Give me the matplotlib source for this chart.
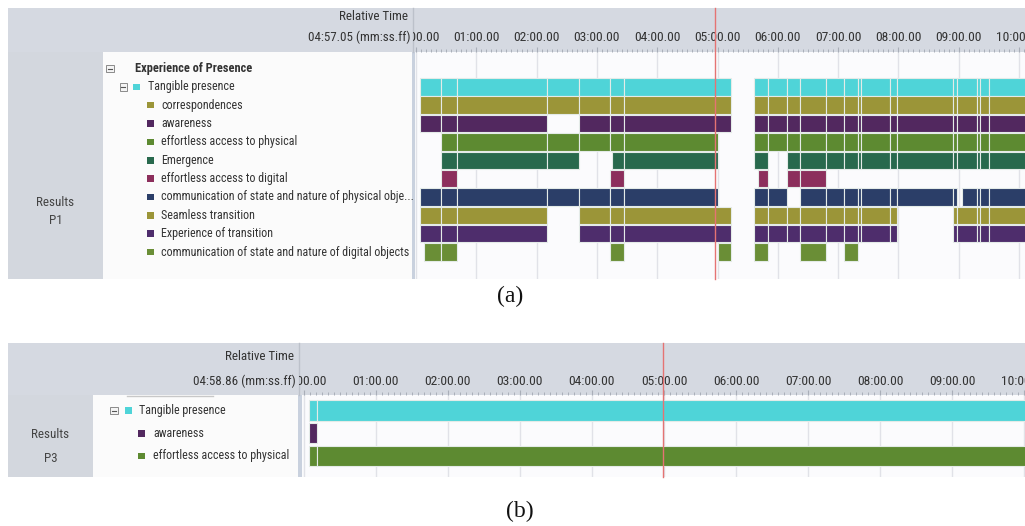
import matplotlib
matplotlib.use("Agg")
import matplotlib.pyplot as plt
from matplotlib.patches import Rectangle
from matplotlib.ticker import FixedLocator, MultipleLocator, FuncFormatter
from matplotlib.transforms import Bbox, TransformedBbox

plt.rcParams['font.family'] = ['Roboto Condensed', 'Archivo Narrow', 'Asap Condensed',
                               'Liberation Sans Narrow', 'DejaVu Sans']

# ------------------------------------------------------------------ data
# Panel (a): Results P1
labels_a = ["Experience of Presence", "Tangible presence", "correspondences", "awareness",
            "effortless access to physical", "Emergence", "effortless access to digital",
            "communication of state and nature of physical obje...", "Seamless transition",
            "Experience of transition", "communication of state and nature of digital objects"]
colors_a = [None, "#4fd4d8", "#9b9538", "#52285f", "#5d8a31", "#28694d", "#8c2f5c",
            "#2b3e68", "#9b9538", "#4e2d6c", "#6a8e36"]
spans_a = [
    [],
    [(0.066, 5.22), (5.61, 10.5)],
    [(0.066, 5.22), (5.61, 10.5)],
    [(0.066, 2.18), (2.71, 5.22), (5.61, 10.5)],
    [(0.41, 5.01), (5.61, 10.5)],
    [(0.41, 2.71), (3.245, 5.01), (5.61, 5.84), (6.16, 10.5)],
    [(0.41, 0.675), (3.21, 3.455), (5.67, 5.84), (6.16, 6.80)],
    [(0.066, 5.01), (5.61, 6.16), (6.37, 8.98), (9.05, 10.5)],
    [(0.066, 2.18), (2.71, 5.22), (5.61, 7.97), (8.90, 10.5)],
    [(0.066, 2.18), (2.71, 5.22), (5.61, 7.97), (8.90, 10.5)],
    [(0.133, 0.675), (3.21, 3.455), (5.01, 5.22), (5.61, 5.84), (6.37, 6.80), (7.10, 7.33)],
]
cuts_a = [0.41, 0.675, 2.18, 2.71, 3.21, 3.455, 5.84, 6.16, 6.37, 6.80, 7.10, 7.33, 7.38,
          7.86, 7.97, 8.90, 8.98, 9.30, 9.36, 9.51]
cursor_a = 4 + 57.05 / 60
cursor_a_text = "04:57.05 (mm:ss.ff)"
group_a = ["Results", "P1"]

# Panel (b): Results P3
labels_b = ["Tangible presence", "awareness", "effortless access to physical"]
colors_b = ["#4fd4d8", "#52285f", "#5d8a31"]
spans_b = [[(0.078, 10.5)], [(0.078, 0.19)], [(0.078, 10.5)]]
cuts_b = [0.19]
cursor_b = 4 + 58.86 / 60
cursor_b_text = "04:58.86 (mm:ss.ff)"
group_b = ["Results", "P3"]

minutes = list(range(0, 11))

# ------------------------------------------------------------------ style
W, H = 1025, 526
HEAD = "#d5d9e1"
SIDE = "#d3d7de"
LABBG = "#fbfbfb"
TLBG = "#fbfbfd"
GRID = "#e1e2e8"
SEP = "#c9d1de"
TXT = "#333333"
EDGE = "#e4ebe8"
RED = "#e57373"
TICKFS = 9.7
LABFS = 8.65
BOLDFS = 8.9
HDRFS = 9.4

fig = plt.figure(figsize=(W / 100, H / 100), dpi=100)


def px_axes(x0, y0, x1, y1, z):
    ax = fig.add_axes([x0 / W, 1 - y1 / H, (x1 - x0) / W, (y1 - y0) / H])
    ax.set_zorder(z)
    return ax


def split(spans, cuts):
    out = []
    for s, e in spans:
        pts = [s] + [c for c in cuts if s < c < e] + [e]
        out += [(a, b - a) for a, b in zip(pts[:-1], pts[1:])]
    return out


# background axes in pixel space
bg = px_axes(0, 0, W, H, 0)
bg.set_xlim(0, W)
bg.set_ylim(H, 0)
bg.axis("off")


def panel(hy0, hy1, by1, xl, xsep0, xsep1, xt0, t_x0, t_pitch, y_c0, y_pitch,
          labels, colors, spans, cuts, cursor, cursor_text, group, tree, hdr_txt_y,
          bar_h, tick_gap_pt):
    # header strip
    bg.add_patch(Rectangle((8, hy0), W - 8, hy1 - hy0, color=HEAD, lw=0))
    bg.add_patch(Rectangle((xsep0, hy1), xsep1 - xsep0, by1 - hy1, color=SEP, lw=0))
    bg.plot([xsep0 + 0.5, xsep0 + 0.5], [hy0, hy1], color="#bcc1ca", lw=1)

    # timeline axes
    ax = px_axes(xt0, hy1, W, by1, 1)
    ax.set_facecolor(TLBG)
    ax.set_xlim((xt0 - t_x0) / t_pitch, (W - t_x0) / t_pitch)
    ax.set_ylim((by1 - y_c0) / y_pitch, (hy1 - y_c0) / y_pitch)
    for s in ax.spines.values():
        s.set_visible(False)
    ax.xaxis.set_major_locator(FixedLocator(minutes))
    ax.xaxis.set_minor_locator(MultipleLocator(1 / 12))
    ax.xaxis.set_major_formatter(FuncFormatter(lambda v, p: "%02d:00.00" % int(round(v))))
    ax.tick_params(axis="x", which="both", top=True, bottom=False, labeltop=True,
                   labelbottom=False, direction="out", color="#a9aeb8")
    ax.tick_params(axis="x", which="major", length=3.6, width=0.8, pad=tick_gap_pt,
                   labelsize=TICKFS, labelcolor=TXT)
    ax.tick_params(axis="x", which="minor", length=2.0, width=0.7)
    ax.tick_params(axis="y", left=False, labelleft=False)
    ax.grid(axis="x", which="major", color=GRID, lw=1)
    ax.set_axisbelow(True)
    # tick labels are clipped at the left edge of the timeline, as in the viewer
    clip = TransformedBbox(Bbox([[(xsep0 + 1) / W, 0], [1, 1]]), fig.transFigure)
    for tk in ax.xaxis.get_major_ticks(len(minutes)):
        tk.label2.set_clip_box(clip)
        tk.label2.set_clip_on(True)
    for i, (sp, c) in enumerate(zip(spans, colors)):
        if not sp:
            continue
        ax.broken_barh(split(sp, cuts), (i - bar_h / 2, bar_h), facecolors=c,
                       edgecolors=EDGE, linewidth=0.8, zorder=2)
    ymax = 1 + (hy1 - hy0) / (by1 - hy1)
    ax.axvline(cursor, ymin=0, ymax=ymax, color=RED, lw=1, clip_on=False, zorder=5)

    # header-left overlay
    hl = px_axes(8, hy0, xsep0, hy1, 2)
    hl.set_xlim(8, xsep0)
    hl.set_ylim(hy1, hy0)
    hl.axis("off")
    hl.add_patch(Rectangle((8, hy0), xsep0 - 8, hy1 - hy0, color=HEAD, lw=0))
    hl.text(xsep0 - 4, hdr_txt_y[0], "Relative Time", ha="right", va="center",
            fontsize=HDRFS, color=TXT)
    hl.text(xsep0 - 2, hdr_txt_y[1], cursor_text, ha="right", va="center",
            fontsize=HDRFS, color=TXT)

    # label body overlay sharing the row scale
    lb = px_axes(8, hy1, xsep0, by1, 2)
    lb.set_xlim(8, xsep0)
    lb.set_ylim(ax.get_ylim())
    lb.set_facecolor(LABBG)
    for s in lb.spines.values():
        s.set_visible(False)
    lb.set_xticks([])
    lb.set_yticks([])
    lb.axvspan(8, xl, color=SIDE, lw=0)
    gy0, gy1 = group[2], group[3]
    lb.text((8 + xl) / 2, gy0, group[0], ha="center", va="center", fontsize=HDRFS, color="#444444")
    lb.text((8 + xl) / 2, gy1, group[1], ha="center", va="center", fontsize=HDRFS, color="#444444")
    bw = 7.5 / y_pitch
    sq = 6.5 / y_pitch
    for i, (lab, c) in enumerate(zip(labels, colors)):
        kind, xbox, xsq, xtx = tree[i]
        if xbox is not None:
            lb.add_patch(Rectangle((xbox, i - bw / 2), 7.5, bw, facecolor="#f4f4f4",
                                   edgecolor="#8a8a8a", lw=0.7))
            lb.plot([xbox + 1.8, xbox + 5.7], [i, i], color="#555555", lw=0.8)
        if c is not None and xsq is not None:
            lb.add_patch(Rectangle((xsq, i - sq / 2), 6.5, sq, facecolor=c, lw=0))
        bold = kind == "b"
        lb.text(xtx, i, lab, ha="left", va="center", fontsize=BOLDFS if bold else LABFS,
                color=TXT, fontweight="bold" if bold else "normal")
    return ax, lb


tree_a = [("b", 106, None, 135), ("n", 119.5, 133, 148)] + [("n", None, 147, 161)] * 9
ax_a, lb_a = panel(8, 52, 279, 103, 412, 415, 415, 416.0, 60.3, 68.5, 18.35,
                   labels_a, colors_a, spans_a, cuts_a, cursor_a, cursor_a_text,
                   group_a + [(202 - 68.5) / 18.35, (221 - 68.5) / 18.35],
                   tree_a, (17, 37), 0.95, 1.9)

tree_b = [("n", 110, 125, 139), ("n", None, 138, 153), ("n", None, 138, 153)]
ax_b, lb_b = panel(343, 395, 477, 93, 298, 302, 302, 303.7, 72.05, 410.5, 22.75,
                   labels_b, colors_b, spans_b, cuts_b, cursor_b, cursor_b_text,
                   group_b + [(435 - 410.5) / 22.75, (458 - 410.5) / 22.75],
                   tree_b, (356, 381), 0.88, 1.3)
lb_b.plot([127, 213], [lb_b.get_ylim()[1] + 0.03] * 2, color="#c8c8c8", lw=1)

# captions
bg.text(510, 296, "(a)", ha="center", va="center", fontsize=17,
        family=["Liberation Serif", "DejaVu Serif"], color="#111111")
bg.text(520, 511, "(b)", ha="center", va="center", fontsize=17,
        family=["Liberation Serif", "DejaVu Serif"], color="#111111")

fig.savefig("out.png", dpi=100)
